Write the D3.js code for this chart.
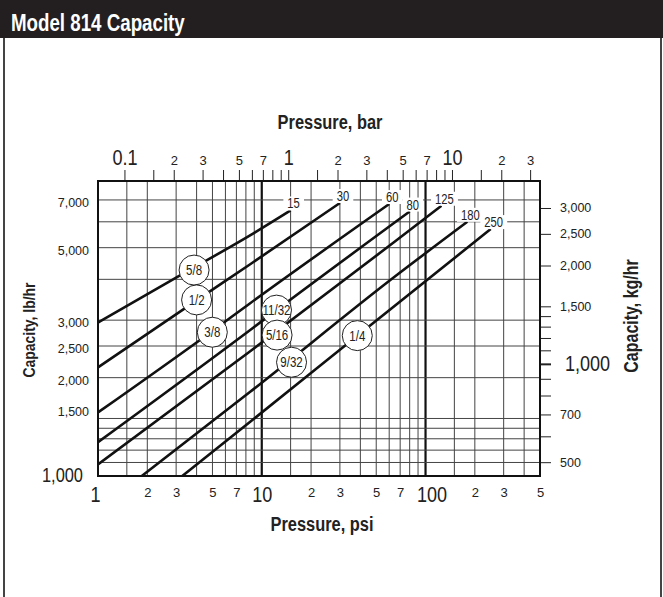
<!DOCTYPE html>
<html>
<head>
<meta charset="utf-8">
<script src="https://cdn.jsdelivr.net/npm/d3@7"></script>
<style>
  body { margin: 0; background: #fff; }
  svg { display: block; }
  .narrow { font-family: "Liberation Sans", Arial, sans-serif; }
  .reg { font-family: "Liberation Sans", Arial, sans-serif; }
  .grid line { stroke: #444; stroke-width: 1; }
  .curve { fill: none; stroke: #111; stroke-width: 2.6; }
</style>
</head>
<body>
<div id="chart"></div>
<script>
// orifice sizes and the max pressure (psi) where each curve stops
const orifices = ['5/8', '1/2', '3/8', '11/32', '5/16', '9/32', '1/4'];
const maxPressure = [15, 30, 60, 80, 125, 180, 250];

// capacity curves: [psi, lb/hr]
const curve58 = [[1, 2950], [3, 4050], [9, 5550], [15, 6500]];
const curve12 = [[1, 2150], [4, 3450], [8.5, 4450], [30, 6850]];
const curve38 = [[1, 1565], [5, 2780], [8.5, 3380], [60, 6800]];
const curve1132 = [[1, 1270], [8.5, 2800], [12.3, 3220], [80, 6450]];
const curve516 = [[1, 1085], [8.5, 2410], [65, 5220], [125, 6720]];
const curve932 = [[1.85, 1000], [8.5, 1810], [65, 4080], [180, 6000]];
const curve14 = [[3.27, 1000], [8.5, 1465], [38, 2680], [250, 5700]];
const curves = [curve58, curve12, curve38, curve1132, curve516, curve932, curve14];

// where the orifice bubbles sit: [psi, lb/hr]
const bubbles = [[3.86, 4270], [4.0, 3460], [4.99, 2755], [12.3, 3220], [12.4, 2700], [15.2, 2230], [38.3, 2690]];

// grid and ticks
const psiGrid = [1.5, 2, 3, 4, 5, 6, 7, 8, 9, 10, 15, 20, 30, 40, 50, 60, 70, 80, 90, 100, 150, 200, 300, 400];
const lbGrid = [1100, 1200, 1300, 1400, 1500, 2000, 2500, 3000, 4000, 5000, 6000, 7000];
const psiLabels = [1, 2, 3, 5, 7, 10, 20, 30, 50, 70, 100, 200, 300, 500];
const barTicks = [0.1, 0.15, 0.2, 0.3, 0.4, 0.5, 0.6, 0.7, 0.8, 0.9, 1, 1.5, 2, 3, 4, 5, 6, 7, 8, 9, 10, 15, 20, 30];
const barLabels = [0.1, 0.2, 0.3, 0.5, 0.7, 1, 2, 3, 5, 7, 10, 20, 30];
const lbLabels = [1000, 1500, 2000, 2500, 3000, 5000, 7000];
const kgTicks = [500, 600, 700, 800, 900, 1000, 1100, 1200, 1300, 1400, 1500, 2000, 2500, 3000];
const kgLabels = [500, 700, 1000, 1500, 2000, 2500, 3000];

const PSI_PER_BAR = 14.5038;
const LB_PER_KG = 2.20462;

const W = 663, H = 597;
const margin = { top: 181, right: 123, bottom: 121, left: 98 };
const width = W - margin.left - margin.right;
const height = H - margin.top - margin.bottom;

const isDecade = v => Math.abs(Math.log10(v) - Math.round(Math.log10(v))) < 1e-9;
const lead = v => String(Math.round(v / Math.pow(10, Math.floor(Math.log10(v) + 1e-9))));

// no condensed face installed, so squeeze the regular one
function narrow(sel, k = 0.82) {
  sel.each(function () {
    const w = this.getComputedTextLength();
    if (w > 0) d3.select(this).attr('textLength', w * k).attr('lengthAdjust', 'spacingAndGlyphs');
  });
}

const svg = d3.select('#chart').append('svg')
  .attr('width', W)
  .attr('height', H);

// header bar and frame
svg.append('rect').attr('x', 0).attr('y', 0).attr('width', W).attr('height', 38).attr('fill', '#231f20');
svg.append('text').attr('class', 'narrow')
  .attr('x', 11).attr('y', 31)
  .attr('fill', '#fff').attr('font-weight', 'bold').attr('font-size', 24)
  .text('Model 814 Capacity')
  .call(narrow, 0.78);
svg.append('line').attr('x1', 4).attr('x2', 4).attr('y1', 38).attr('y2', H).attr('stroke', '#444').attr('stroke-width', 2);
svg.append('line').attr('x1', 661).attr('x2', 661).attr('y1', 38).attr('y2', H).attr('stroke', '#444').attr('stroke-width', 2);

const g = svg.append('g').attr('transform', `translate(${margin.left},${margin.top})`);

const x = d3.scaleLog().domain([1, 500]).range([0, width]);
const y = d3.scaleLog().domain([1000, 8000]).range([height, 0]);
const xBar = d3.scaleLog().domain(x.domain().map(v => v / PSI_PER_BAR)).range([0, width]);
const yKg = d3.scaleLog().domain(y.domain().map(v => v / LB_PER_KG)).range([height, 0]);

// grid
const grid = g.append('g').attr('class', 'grid');
grid.selectAll('.v').data(psiGrid).enter().append('line')
  .attr('x1', d => x(d)).attr('x2', d => x(d))
  .attr('y1', 0).attr('y2', height)
  .style('stroke', d => isDecade(d) ? '#111' : null)
  .style('stroke-width', d => isDecade(d) ? 2.2 : null);
grid.selectAll('.h').data(lbGrid).enter().append('line')
  .attr('x1', 0).attr('x2', width)
  .attr('y1', d => y(d)).attr('y2', d => y(d));

// top axis (bar)
const axTop = g.append('g')
  .call(d3.axisTop(xBar).tickValues(barTicks).tickSize(11).tickPadding(5)
    .tickFormat(d => barLabels.some(b => Math.abs(b - d) < 1e-9) ? (isDecade(d) ? String(d) : lead(d)) : ''));
axTop.select('.domain').remove();
axTop.selectAll('line').attr('stroke', '#222');
axTop.selectAll('text')
  .attr('class', d => isDecade(d) ? 'narrow' : 'reg')
  .attr('font-size', d => isDecade(d) ? 22 : 13)
  .attr('fill', '#222');
axTop.selectAll('text').filter(d => isDecade(d)).call(narrow);

// bottom axis (psi)
const axBottom = g.append('g').attr('transform', `translate(0,${height})`)
  .call(d3.axisBottom(x).tickValues(psiLabels).tickSize(0)
    .tickFormat(d => isDecade(d) ? String(d) : lead(d)));
axBottom.select('.domain').remove();
axBottom.selectAll('text')
  .attr('class', d => isDecade(d) ? 'narrow' : 'reg')
  .attr('font-size', d => isDecade(d) ? 22 : 13)
  .attr('dy', null)
  .attr('y', d => isDecade(d) ? 26 : 21)
  .attr('dx', d => d === 1 ? -3 : d === 100 ? 6 : 0)
  .attr('fill', '#222');
axBottom.selectAll('text').filter(d => isDecade(d)).call(narrow);

// left axis (lb/hr)
const axLeft = g.append('g')
  .call(d3.axisLeft(y).tickValues(lbLabels).tickSize(0).tickPadding(9)
    .tickFormat(d3.format(',')));
axLeft.select('.domain').remove();
axLeft.selectAll('text')
  .attr('class', d => d === 1000 ? 'narrow' : 'reg')
  .attr('font-size', d => d === 1000 ? 20 : 12.5)
  .attr('x', d => d === 1000 ? -15 : -9)
  .attr('transform', d => `translate(0,${d === 1500 ? -7 : d === 1000 ? -1 : 2.5})`)
  .attr('fill', '#222');
axLeft.selectAll('text').filter(d => d === 1000).call(narrow);

// right axis (kg/hr)
const axRight = g.append('g').attr('transform', `translate(${width},0)`)
  .call(d3.axisRight(yKg).tickValues(kgTicks).tickSize(11).tickPadding(9)
    .tickFormat(d => kgLabels.includes(d) ? d3.format(',')(d) : ''));
axRight.select('.domain').remove();
axRight.selectAll('line')
  .attr('stroke', '#222')
  .attr('stroke-width', d => d === 1000 ? 2 : 1);
axRight.selectAll('text')
  .attr('class', d => d === 1000 ? 'narrow' : 'reg')
  .attr('font-size', d => d === 1000 ? 22 : 12.5)
  .attr('x', d => d === 1000 ? 25 : 20)
  .attr('fill', '#222');
axRight.selectAll('text').filter(d => d === 1000).call(narrow);

// axis titles
g.append('text').attr('class', 'narrow')
  .attr('x', 232).attr('y', -52)
  .attr('text-anchor', 'middle').attr('font-weight', 'bold').attr('font-size', 20)
  .attr('fill', '#222').text('Pressure, bar').call(narrow);
g.append('text').attr('class', 'narrow')
  .attr('x', 224).attr('y', height + 55)
  .attr('text-anchor', 'middle').attr('font-weight', 'bold').attr('font-size', 20)
  .attr('fill', '#222').text('Pressure, psi').call(narrow);
svg.append('text').attr('class', 'narrow')
  .attr('transform', 'translate(35,330) rotate(-90)')
  .attr('text-anchor', 'middle').attr('font-weight', 'bold').attr('font-size', 17)
  .attr('fill', '#222').text('Capacity, lb/hr').call(narrow);
svg.append('text').attr('class', 'narrow')
  .attr('transform', 'translate(638,316) rotate(-90)')
  .attr('text-anchor', 'middle').attr('font-weight', 'bold').attr('font-size', 19.5)
  .attr('fill', '#222').text('Capacity, kg/hr').call(narrow);

// capacity curves
g.append('clipPath').attr('id', 'plot-clip')
  .append('rect').attr('width', width).attr('height', height);

const line = d3.line()
  .x(d => x(d[0]))
  .y(d => y(d[1]))
  .curve(d3.curveMonotoneX);

g.append('g').attr('clip-path', 'url(#plot-clip)')
  .selectAll('.curve').data(curves).enter().append('path')
  .attr('class', 'curve')
  .attr('d', line);

// max pressure labels at the curve ends (white boxes first, then text)
const labelBg = g.append('g');
const labelTx = g.append('g');
curves.forEach((c, i) => {
  const last = c[c.length - 1];
  const t = labelTx.append('text').attr('class', 'narrow')
    .attr('x', x(last[0]) + 3).attr('y', y(last[1]) - 7)
    .attr('text-anchor', 'middle').attr('dominant-baseline', 'central')
    .attr('font-size', 14).attr('fill', '#222')
    .text(maxPressure[i])
    .call(narrow, 0.8);
  const bb = t.node().getBBox();
  labelBg.append('rect')
    .attr('x', bb.x - 4).attr('y', bb.y + 1)
    .attr('width', bb.width + 8).attr('height', bb.height - 2)
    .attr('fill', '#fff');
});

// orifice bubbles
const bub = g.selectAll('.bubble').data(bubbles).enter().append('g')
  .attr('transform', d => `translate(${x(d[0])},${y(d[1])})`);
bub.append('circle').attr('r', 15).attr('fill', '#fff').attr('stroke', '#222').attr('stroke-width', 1);
bub.append('text').attr('class', 'narrow')
  .attr('text-anchor', 'middle').attr('dominant-baseline', 'central')
  .attr('font-size', 14).attr('fill', '#222')
  .text((d, i) => orifices[i])
  .call(narrow);

// plot border
g.append('rect').attr('width', width).attr('height', height)
  .attr('fill', 'none').attr('stroke', '#111').attr('stroke-width', 2);
</script>
</body>
</html>
